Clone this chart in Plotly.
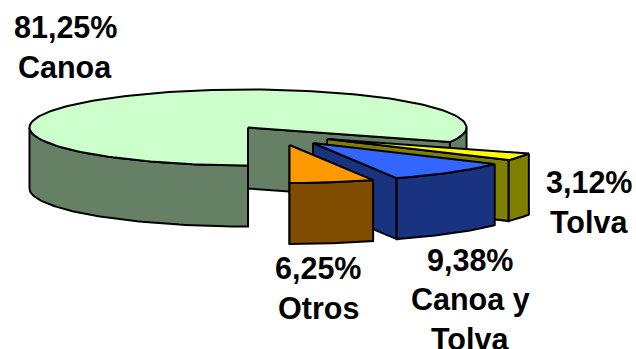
import numpy as np
import plotly.graph_objects as go

# Data
categories = ["Canoa", "Tolva", "Canoa y Tolva", "Otros"]
shares = [81.25, 3.12, 9.38, 6.25]
percent_labels = ["81,25%", "3,12%", "9,38%", "6,25%"]
label_lines = [["Canoa"], ["Tolva"], ["Canoa y", "Tolva"], ["Otros"]]

# Style and layout
top_colors = ["#CCFFCC", "#FFFF00", "#3366FF", "#FF9900"]
side_colors = ["#668066", "#808000", "#1A3380", "#804D00"]
centers = [(248, 127.5), (327, 139), (313, 143), (289.5, 145)]
label_pos = [(65, 27), (589, 182), (470, 260), (318, 268)]
RX, RY, DEPTH = 218.5, 38, 61
LINE_STEP = 39.5
FONT = "Liberation Sans, Arial, sans-serif"
FONT_SIZE = 30.5

fig = go.Figure()


def arc(c, a0, a1, n=60):
    t = np.radians(np.linspace(a0, a1, n))
    return c[0] + RX * np.cos(t), c[1] + RY * np.sin(t)


def poly(x, y, color):
    x = np.append(x, x[0])
    y = np.append(y, y[0])
    fig.add_trace(go.Scatter(x=x, y=y, mode="lines", fill="toself", fillcolor=color,
                             line=dict(color="black", width=2, shape="linear"),
                             hoverinfo="skip", showlegend=False))


def wall(c, a0, a1, color):
    """Outer rim between two angles."""
    x, y = arc(c, a0, a1)
    poly(np.r_[x, x[::-1]], np.r_[y, y[::-1] + DEPTH], color)


def inner(c, a, color):
    """Flat cut face from the apex to the rim at angle a."""
    x, y = arc(c, a, a, 1)
    poly(np.r_[c[0], x[0], x[0], c[0]], np.r_[c[1], y[0], y[0] + DEPTH, c[1] + DEPTH], color)


def top(c, a0, a1, color):
    x, y = arc(c, a0, a1, 200)
    poly(np.r_[c[0], x], np.r_[c[1], y], color)


# Angles: clockwise on screen starting at six o'clock
edges = 90 + 360 * np.cumsum([0] + shares) / sum(shares)

# Main slice
a0, a1 = edges[0], edges[1]
c = centers[0]
wall(c, a0, 180, side_colors[0])
wall(c, 360, a1, side_colors[0])
inner(c, a1, side_colors[0])
inner(c, a0, side_colors[0])
top(c, a0, a1, top_colors[0])

# Exploded slices, back to front
for i in (1, 2, 3):
    a0, a1 = edges[i], edges[i + 1]
    c = centers[i]
    inner(c, a1, side_colors[i])
    wall(c, a0, a1, side_colors[i])
    top(c, a0, a1, top_colors[i])

# Labels
for pct, lines, (lx, ly) in zip(percent_labels, label_lines, label_pos):
    for k, txt in enumerate([pct] + lines):
        fig.add_annotation(x=lx, y=ly + k * LINE_STEP, text=f"<b>{txt}</b>", showarrow=False,
                           xanchor="center", yanchor="middle",
                           font=dict(family=FONT, size=FONT_SIZE, color="black"))

fig.update_layout(
    width=636, height=349, margin=dict(l=0, r=0, t=0, b=0),
    paper_bgcolor="white", plot_bgcolor="white", showlegend=False,
    xaxis=dict(range=[0, 636], visible=False, fixedrange=True),
    yaxis=dict(range=[349, 0], visible=False, fixedrange=True),
)
fig.write_html("out.html", config=dict(displayModeBar=False),
               post_script="document.body.style.margin='0';document.body.style.overflow='hidden';")
